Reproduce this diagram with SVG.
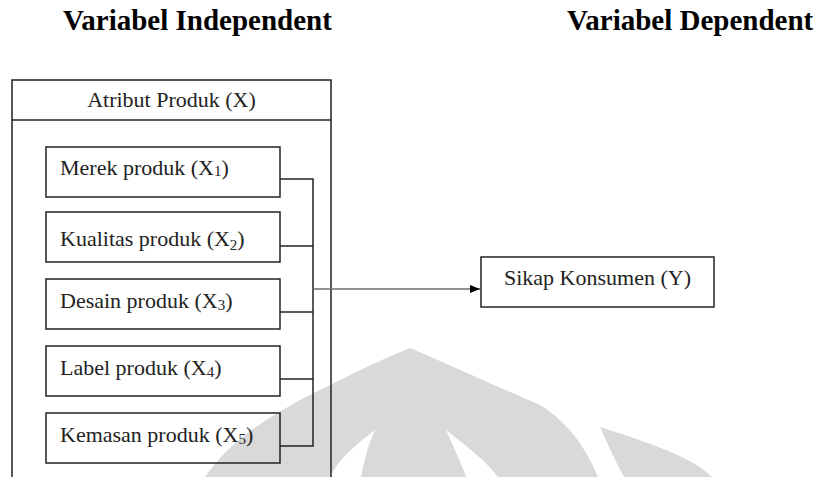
<svg xmlns="http://www.w3.org/2000/svg" width="827" height="477" viewBox="0 0 827 477">
<defs>
<style>
.bg{fill:#ffffff}
.wm{fill:#d9d9d9;stroke:none}
.hd{font-family:"Liberation Serif","Times New Roman",serif;font-weight:bold;font-size:29px;fill:#000}
.t{font-family:"Liberation Serif","Times New Roman",serif;font-size:22px;fill:#222}
.box{fill:none;stroke:#222;stroke-width:1.5}
.ln{fill:none;stroke:#222;stroke-width:1.5}
.arr{fill:none;stroke:#6e6e6e;stroke-width:1.5}
</style>
<marker id="ah" viewBox="0 0 10 10" refX="10" refY="5" markerWidth="10" markerHeight="10" markerUnits="userSpaceOnUse" orient="auto">
<path d="M0,1 L10,5 L0,9 Z" fill="#000"/>
</marker>
</defs>
<rect class="bg" x="0" y="0" width="827" height="477"/>

<g id="watermark">
<path class="wm" d="M205,477 C230,440 265,420 300,400 C340,380 375,362 410,348 C450,365 500,388 540,405 C565,420 585,445 598,477 L498,477 C485,460 465,445 446,430 C455,450 462,465 466,477 L361,477 C364,462 368,445 375,430 C355,445 338,460 330,477 Z"/>
<path class="wm" d="M600,427 C640,440 690,455 712,477 L624,477 C616,462 608,445 600,427 Z"/>
</g>

<text class="hd" x="63" y="30">Variabel Independent</text>
<text class="hd" x="567" y="30">Variabel Dependent</text>

<g id="atribut">
<path class="box" d="M12,478 L12,80 L331,80 L331,478"/>
<line class="ln" x1="12" y1="120" x2="331" y2="120"/>
<text class="t" x="171.5" y="107" text-anchor="middle">Atribut Produk (X)</text>
</g>

<g id="x1">
<rect class="box" x="46" y="147" width="234" height="50"/>
<text class="t" x="60" y="175">Merek produk (X<tspan font-size="15" dy="1">1</tspan><tspan dy="-1">)</tspan></text>
</g>
<g id="x2">
<rect class="box" x="46" y="212" width="234" height="50"/>
<text class="t" x="60" y="246">Kualitas produk (X<tspan font-size="15" dy="4">2</tspan><tspan dy="-4">)</tspan></text>
</g>
<g id="x3">
<rect class="box" x="46" y="279" width="234" height="50"/>
<text class="t" x="60" y="308">Desain produk (X<tspan font-size="15" dy="2">3</tspan><tspan dy="-2">)</tspan></text>
</g>
<g id="x4">
<rect class="box" x="46" y="346" width="234" height="50"/>
<text class="t" x="60" y="375">Label produk (X<tspan font-size="15" dy="2">4</tspan><tspan dy="-2">)</tspan></text>
</g>
<g id="x5">
<rect class="box" x="46" y="413" width="234" height="50"/>
<text class="t" x="60" y="442">Kemasan produk (X<tspan font-size="15" dy="2">5</tspan><tspan dy="-2">)</tspan></text>
</g>

<g id="y">
<rect class="box" x="481" y="257" width="233" height="50"/>
<text class="t" x="597.5" y="285" text-anchor="middle">Sikap Konsumen (Y)</text>
</g>

<g id="connectors">
<path class="ln" d="M280,179 H313 V446 H280"/>
<line class="ln" x1="280" y1="246" x2="313" y2="246"/>
<line class="ln" x1="280" y1="312" x2="313" y2="312"/>
<line class="ln" x1="280" y1="379" x2="313" y2="379"/>
<line class="arr" x1="313" y1="289" x2="480" y2="289" marker-end="url(#ah)"/>
</g>
</svg>
